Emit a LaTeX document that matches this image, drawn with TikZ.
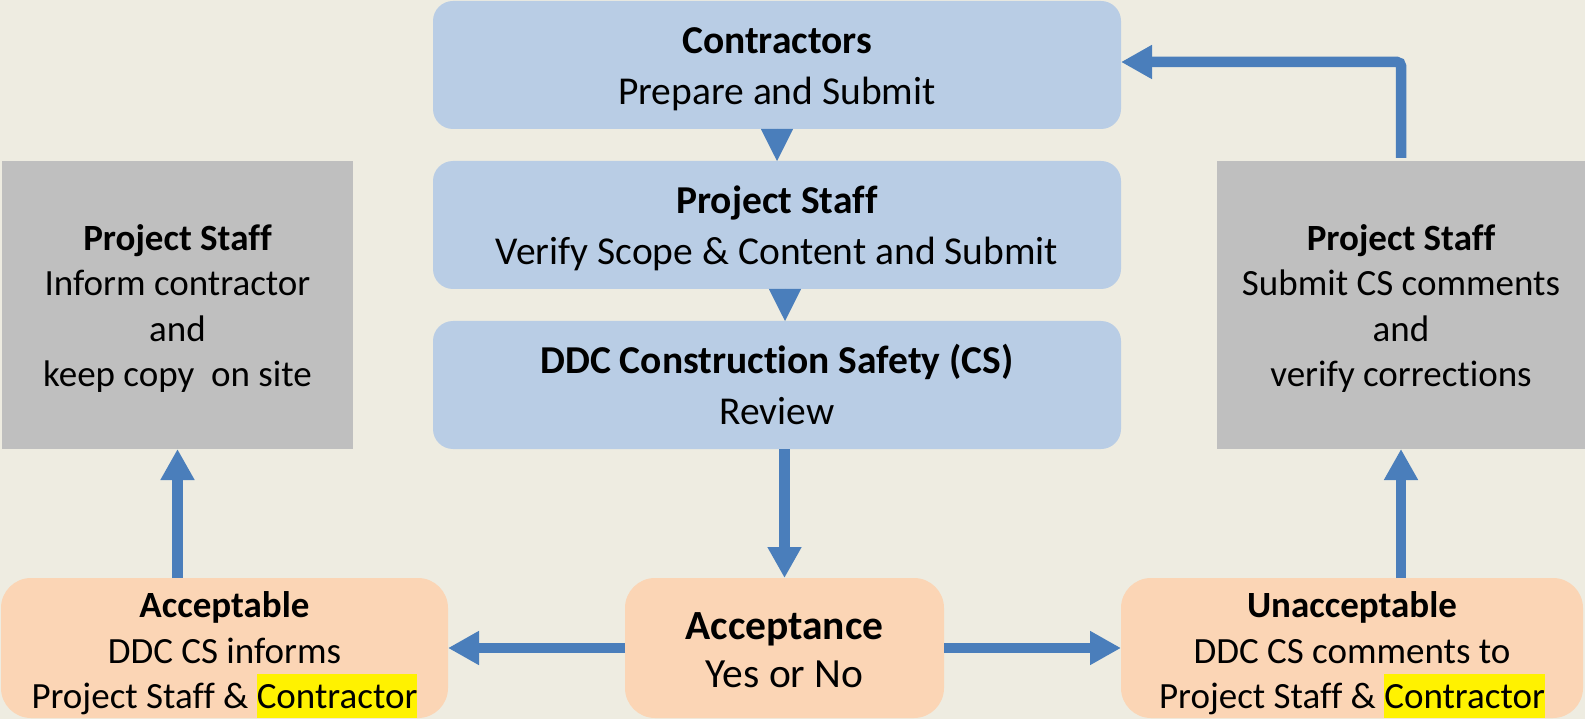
\documentclass[tikz,border=0pt]{standalone}
\usepackage{fontspec}
\setmainfont{Carlito}[Ligatures={NoCommon}]
\usetikzlibrary{positioning}
\usetikzlibrary{arrows.meta}

\definecolor{paper}{HTML}{EEECE1}
\definecolor{boxblue}{HTML}{B9CDE5}
\definecolor{boxgray}{HTML}{BFBFBF}
\definecolor{boxpeach}{HTML}{FBD5B5}
\definecolor{flowblue}{HTML}{4A7EBB}

\newcommand{\hly}[1]{{\setlength{\fboxsep}{0pt}\colorbox{yellow}{\rule[-9pt]{0pt}{44pt}#1}}}
% struts so the lines sit as in the slide
\newcommand{\tops}[1]{\rule{0pt}{#1}}
\newcommand{\bots}[1]{\rule[-#1]{0pt}{#1}}

\begin{document}
\begin{tikzpicture}[x=1pt,y=-1pt,
flow/.style={draw=flowblue,line width=10.5pt,-{Triangle[width=32pt,length=31pt]}},
notch/.style={draw=flowblue,line width=0.5pt,-{Triangle[width=32pt,length=32pt]}}
]

\tikzstyle{bluebox} = [fill=boxblue, rounded corners=20pt, inner sep=0pt, outer sep=0pt, align=center,
    minimum width=688pt, minimum height=128pt, font=\fontsize{39.5}{50.7}\selectfont]
\tikzstyle{graybox} = [fill=boxgray, inner sep=0pt, outer sep=0pt, align=center,
    minimum height=288pt, font=\fontsize{37}{45.3}\selectfont]
\tikzstyle{peachbox} = [fill=boxpeach, rounded corners=30pt, inner sep=0pt, outer sep=0pt, align=center,
    minimum height=140pt, font=\fontsize{37}{45.6}\selectfont]

\useasboundingbox (0,0) rectangle (1585,719);
\fill[paper] (0,0) rectangle (1585,719);

% review chain
\node[bluebox] (contr) at (777,65)
    {\tops{43.3pt}\textbf{Contractors}\\Prepare and Submit\bots{15.2pt}};
\node[bluebox, below=32pt of contr] (verify)
    {\tops{43.3pt}\textbf{Project Staff}\\Verify Scope \& Content and Submit\bots{15.2pt}};
\node[bluebox, below=32pt of verify] (review)
    {\tops{43.3pt}\textbf{DDC Construction Safety (CS)}\\Review\bots{15.2pt}};

% side boxes
\node[graybox, minimum width=351pt] (inform) at (177.5,305)
    {\tops{40.3pt}\textbf{Project Staff}\\Inform contractor\\and\\keep copy\ \ on site\bots{13.6pt}};
\node[graybox, minimum width=368pt] (submitcs) at (1401,305)
    {\tops{40.3pt}\textbf{Project Staff}\\Submit CS comments\\and\\verify corrections\bots{13.6pt}};

% outcome
\node[peachbox, minimum width=447pt] (acceptable) at (224.5,648)
    {\tops{39.6pt}\textbf{Acceptable}\\DDC CS informs\\Project Staff \& \hly{Contractor}\bots{8pt}};
\node[peachbox, minimum width=319pt, font=\fontsize{41.5}{48.6}\selectfont] (accept) at (784.5,648)
    {\tops{45.2pt}\textbf{Acceptance}\\Yes or No\bots{14.6pt}};
\node[peachbox, minimum width=462pt] (unaccept) at (1352,648)
    {\tops{39.6pt}\textbf{Unacceptable}\\DDC CS comments to\\Project Staff \& \hly{Contractor}\bots{8pt}};

\draw[notch] (contr.south) -- (verify.north);
\draw[notch] ([xshift=8pt]verify.south) -- ([xshift=8pt]review.north);
\draw[flow] (review.south -| accept.north) -- (accept.north);
\draw[flow] (accept.west) -- (acceptable.east);
\draw[flow] (accept.east) -- (unaccept.west);
\draw[flow] (acceptable.north -| inform.south) -- (inform.south);
\draw[flow] (unaccept.north -| submitcs.south) -- (submitcs.south);
\draw[flow, rounded corners=4pt] ([yshift=3pt]submitcs.north) |- ([yshift=3pt]contr.east);
\end{tikzpicture}
\end{document}
